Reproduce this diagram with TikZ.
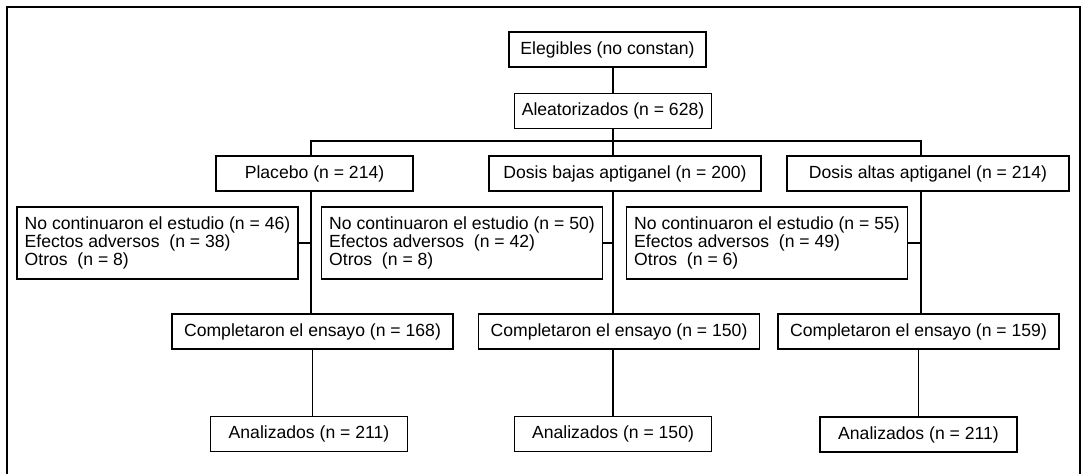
\documentclass[tikz,border=0pt]{standalone}
\usepackage{fontspec}
\setmainfont{Liberation Sans}

\begin{document}
\begin{tikzpicture}[x=1pt, y=-1pt, line width=1.1pt,
    caja/.style={draw, inner sep=0pt, minimum width=197pt, minimum height=35pt, font=\fontsize{17.6}{18}\selectfont},
    cajaancha/.style={caja, minimum width=281pt},
    cajasalida/.style={caja, align=left, minimum width=281pt, minimum height=72pt}]
        \useasboundingbox (0,0) rectangle (1084,474);
        \draw (7,474) -- (7,7) -- (1080,7) -- (1080,474);

        \node[caja] at (607.5,49.5) (eleg) {Elegibles (no constan)};
        \node[caja] at (613,111) (alea) {Aleatorizados (n = 628)};

        \node[caja] at (314.5,173.5) (plac) {Placebo (n = 214)};
        \node[caja, minimum width=272pt] at (625,173.5) (baja) {Dosis bajas aptiganel (n = 200)};
        \node[cajaancha, minimum width=282pt] at (928,173.5) (alta) {Dosis altas aptiganel (n = 214)};

        \node[cajasalida] at (157.5,243) (sal1) {No continuaron el estudio (n = 46)\\Efectos adversos~ (n = 38)\\Otros~ (n = 8)};
        \node[cajasalida] at (462,243) (sal2) {No continuaron el estudio (n = 50)\\Efectos adversos~ (n = 42)\\Otros~ (n = 8)};
        \node[cajasalida] at (767,243) (sal3) {No continuaron el estudio (n = 55)\\Efectos adversos~ (n = 49)\\Otros~ (n = 6)};

        \node[cajaancha] at (312.5,331.5) (comp1) {Completaron el ensayo (n = 168)};
        \node[cajaancha] at (619,331.5) (comp2) {Completaron el ensayo (n = 150)};
        \node[cajaancha] at (918.5,331.5) (comp3) {Completaron el ensayo (n = 159)};

        \node[caja] at (309,434) (anal1) {Analizados (n = 211)};
        \node[caja] at (613,434) (anal2) {Analizados (n = 150)};
        \node[caja] at (918.5,434.5) (anal3) {Analizados (n = 211)};

        % ramas
        \coordinate (izq) at (311,141);
        \coordinate (der) at (921,141);
        \draw (eleg.south -| alea) -- (alea.north);
        \draw (alea.south) -- (alea.south |- baja.north);
        \draw (izq |- plac.north) -- (izq) -- (der) -- (der |- alta.north);

        \draw (plac.south -| izq) -- (comp1.north -| izq);
        \draw (baja.south -| alea) -- (comp2.north -| alea);
        \draw (alta.south -| der) -- (comp3.north -| der);

        \draw (sal1.east) -- (sal1.east -| izq);
        \draw (sal2.east) -- (sal2.east -| alea);
        \draw (sal3.east) -- (sal3.east -| der);

        \draw (comp1.south) -- (comp1.south |- anal1.north);
        \draw (comp2.south -| anal2) -- (anal2.north);
        \draw (comp3.south) -- (anal3.north);
    \end{tikzpicture}
\end{document}
